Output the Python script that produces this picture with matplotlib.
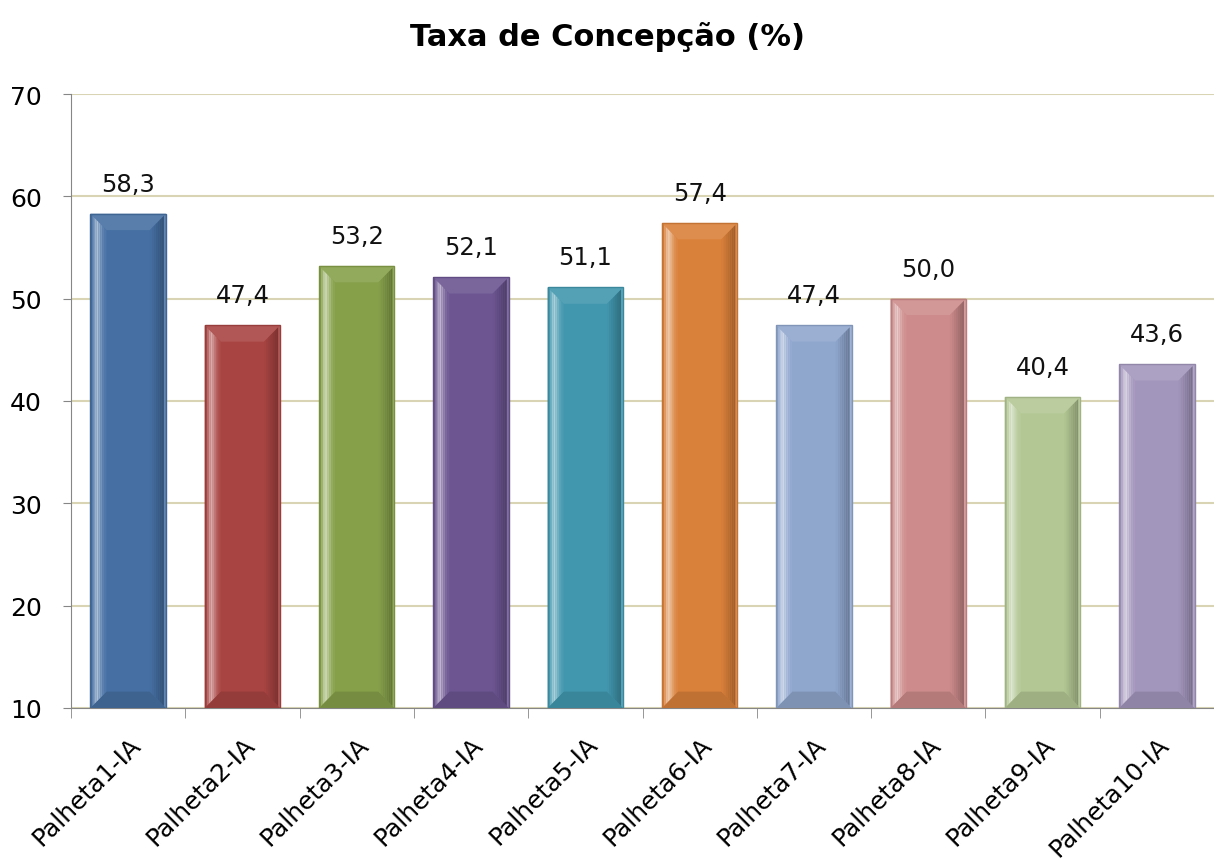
import matplotlib.pyplot as plt
from matplotlib.patches import Polygon
from matplotlib.colors import to_rgb
from matplotlib.transforms import ScaledTranslation
import numpy as np

categorias = ["Palheta1-IA", "Palheta2-IA", "Palheta3-IA", "Palheta4-IA", "Palheta5-IA",
              "Palheta6-IA", "Palheta7-IA", "Palheta8-IA", "Palheta9-IA", "Palheta10-IA"]
taxa = [58.3, 47.4, 53.2, 52.1, 51.1, 57.4, 47.4, 50.0, 40.4, 43.6]
cores = ["#4670a3", "#a84442", "#86a04a", "#6c5591", "#4197ae",
         "#d9803a", "#8fa6cd", "#cd8b8b", "#b3c794", "#a396bc"]
yticks = [10, 20, 30, 40, 50, 60, 70]


def tom(c, f):
    r = np.array(to_rgb(c))
    if f > 0:
        return tuple(r + (1 - r) * f)
    return tuple(r * (1 + f))


fig = plt.figure(figsize=(12.14, 8.62), dpi=100)
ax = fig.add_axes([71 / 1214, 1 - 709 / 862, 1143 / 1214, (709 - 95) / 862])

x = np.arange(len(categorias))
w = 0.66
base = 10
barras = ax.bar(x, np.array(taxa) - base, bottom=base, width=w, color=cores,
                edgecolor="none", zorder=3)

# bisel: largura em unidades de dados
bx = 0.14
by = 1.6
# perfil de brilho atravessando o bisel (de fora para dentro)
perfil_esq = [-0.05, 0.2, 0.45, 0.55, 0.4, 0.25, 0.12, 0.05]
perfil_dir = [0.15, -0.25, -0.22, -0.18, -0.14, -0.1, -0.06, -0.02]
n = len(perfil_esq)
for b, c in zip(barras, cores):
    x0, y0 = b.get_x(), b.get_y()
    x1, y1 = x0 + b.get_width(), y0 + b.get_height()
    # topo e base
    ax.add_patch(Polygon([(x0, y1), (x0 + bx, y1 - by), (x1 - bx, y1 - by), (x1, y1)],
                         facecolor=tom(c, 0.1), edgecolor="none", zorder=4))
    ax.add_patch(Polygon([(x0, y0), (x0 + bx, y0 + by), (x1 - bx, y0 + by), (x1, y0)],
                         facecolor=tom(c, -0.12), edgecolor="none", zorder=4))
    # laterais em fatias
    for i in range(n):
        t0, t1 = i / n, (i + 1) / n
        xa, xb = x0 + t0 * bx, x0 + t1 * bx
        ax.add_patch(Polygon([(xa, y0 + t0 * by), (xb, y0 + t1 * by),
                              (xb, y1 - t1 * by), (xa, y1 - t0 * by)],
                             facecolor=tom(c, perfil_esq[i]), edgecolor="none", zorder=4))
        xa, xb = x1 - t0 * bx, x1 - t1 * bx
        ax.add_patch(Polygon([(xa, y0 + t0 * by), (xb, y0 + t1 * by),
                              (xb, y1 - t1 * by), (xa, y1 - t0 * by)],
                             facecolor=tom(c, perfil_dir[i]), edgecolor="none", zorder=4))
    ax.add_patch(Polygon([(x0, y0), (x1, y0), (x1, y1), (x0, y1)],
                         facecolor="none", edgecolor=tom(c, -0.1), linewidth=1, zorder=6))

for b, v in zip(barras, taxa):
    ax.annotate(f"{v:.1f}".replace(".", ","), (b.get_x() + b.get_width() / 2, v),
                xytext=(0, 13), textcoords="offset points", ha="center", va="bottom",
                fontsize=17.5, color="#111111")

ax.set_ylim(10, 70)
ax.set_yticks(yticks)
ax.set_xlim(-0.5, 9.5 - 10 / 115.3)
ax.set_xticks(x)
ax.set_xticklabels(categorias, rotation=45, ha="right", va="top",
                   rotation_mode="anchor", fontsize=18)
desloc = ScaledTranslation(-0.06, 0, fig.dpi_scale_trans)
for lab in ax.get_xticklabels():
    lab.set_transform(lab.get_transform() + desloc)
ax.set_xticks(np.arange(-0.5, 10, 1), minor=True)
ax.tick_params(axis="x", which="major", length=0, pad=17)
ax.tick_params(axis="x", which="minor", length=7, color="#868686")
ax.tick_params(axis="y", length=6, color="#868686", labelsize=18, pad=15)

ax.yaxis.grid(True, color="#d8d4b4", linewidth=1.5, zorder=0)
ax.set_axisbelow(True)
for s in ["top", "right"]:
    ax.spines[s].set_visible(False)
ax.spines["left"].set_color("#868686")
ax.spines["bottom"].set_color("#868686")

fig.text(0.5, 1 - 37 / 862, "Taxa de Concepção (%)", ha="center", va="center",
         fontsize=22, fontweight="bold")

fig.savefig("out.png", dpi=100)
